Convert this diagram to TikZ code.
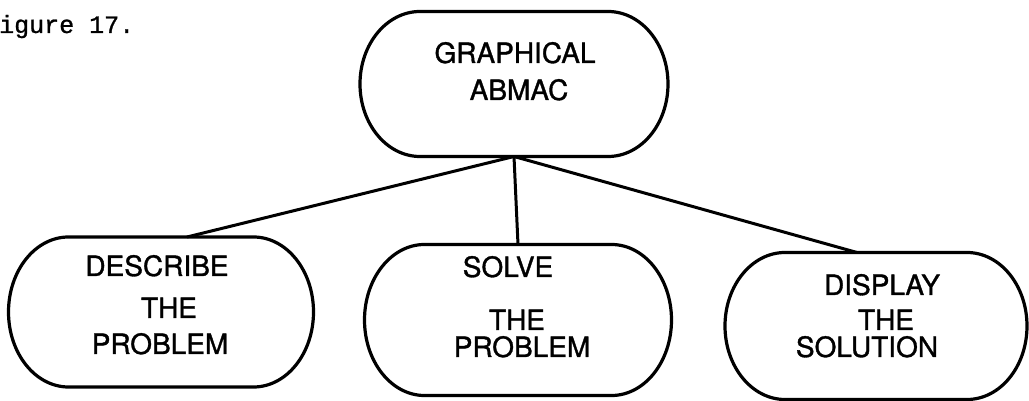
\documentclass[tikz,border=0pt]{standalone}
\usepackage{fontspec}
\setmainfont{TeX Gyre Heros}[FakeBold=1.2]
\newfontfamily\typewriter{Liberation Mono}[FakeBold=1]
\usepackage{tikz}
\usetikzlibrary{calc}

\tikzset{
  box/.style={rectangle, draw=none, inner sep=0pt, outer sep=0pt},
  outline/.style={line width=3.2pt, line join=round},
  link/.style={line width=3pt},
  word/.style={anchor=base, inner sep=0pt, font=\fontsize{28}{30}\selectfont},
  caption/.style={anchor=base west, inner sep=0pt, font=\typewriter\fontsize{25}{28}\selectfont}
}

\begin{document}
\begin{tikzpicture}[x=1pt, y=1pt]
\useasboundingbox (0,0) rectangle (1029,401);
\node[caption] (fig) at (-1,368) {igure 17.};
% the four boxes
\node[box, minimum width=308pt, minimum height=145pt] (top) at (514,317) {};
\node[box, minimum width=305pt, minimum height=150pt] (desc) at (161,89) {};
\node[box, minimum width=307pt, minimum height=151pt] (solve) at (518,81) {};
\node[box, minimum width=302pt, minimum height=147pt] (disp) at (876,75) {};
\foreach \b/\r in {top/72.5, desc/75, solve/75.5, disp/73.5}
  \draw[outline] ($(\b.north west)+(60pt,0)$) -- ($(\b.north east)+(-60pt,0)$)
    arc[start angle=90, end angle=-90, x radius=60pt, y radius=\r pt]
    -- ($(\b.south west)+(60pt,0)$)
    arc[start angle=270, end angle=90, x radius=60pt, y radius=\r pt] -- cycle;
% branches
\draw[link] (top.south) -- ([xshift=26pt]desc.north);
\draw[link] (top.south) -- (solve.north);
\draw[link] (top.south) -- ([xshift=-19pt]disp.north);
% lettering
\foreach \t/\x/\y [count=\i] in {GRAPHICAL/515/338, ABMAC/519/301,
    DESCRIBE/157/125, THE/169/83, PROBLEM/160/47,
    SOLVE/508/124, THE/517/71, PROBLEM/522/44,
    DISPLAY/882/106, THE/886/71, SOLUTION/867/44}
  \node[word] (w\i) at (\x,\y) {\t};
\end{tikzpicture}
\end{document}
